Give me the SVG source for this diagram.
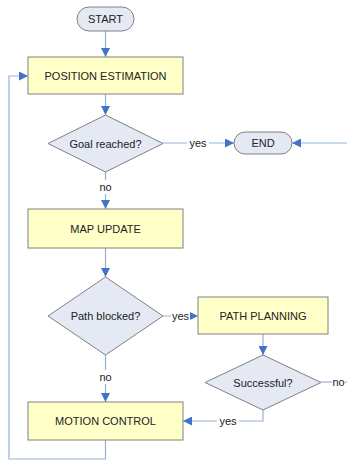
<svg xmlns="http://www.w3.org/2000/svg" width="347" height="462" viewBox="0 0 347 462">
<style>
.box{fill:#FFFFC8;stroke:#808080;stroke-width:1}
.dia{fill:#E4E9F4;stroke:#808080;stroke-width:1}
.term{fill:#E4E9F4;stroke:#808080;stroke-width:1}
.t{font-family:"Liberation Sans",Arial,sans-serif;font-size:11px;fill:#222;text-anchor:middle;dominant-baseline:central}
.c{fill:none;stroke:#95B3D7;stroke-width:1.2}
.lbl{font-family:"Liberation Sans",Arial,sans-serif;font-size:11px;fill:#222;text-anchor:middle;dominant-baseline:central}
</style>
<defs>
<marker id="ah" viewBox="0 0 10 10" refX="10" refY="5" markerWidth="9" markerHeight="9" markerUnits="userSpaceOnUse" orient="auto">
<path d="M0,0 L10,5 L0,10 z" fill="#4472C4"/>
</marker>
</defs>
<g id="connectors">
<path class="c" d="M105.5,31 V57" marker-end="url(#ah)"/>
<path class="c" d="M105.5,94 V115" marker-end="url(#ah)"/>
<path class="c" d="M163,143 H234" marker-end="url(#ah)"/>
<path class="c" d="M347,143 H292" marker-end="url(#ah)"/>
<path class="c" d="M105.5,172 V209" marker-end="url(#ah)"/>
<path class="c" d="M105.5,248 V277" marker-end="url(#ah)"/>
<path class="c" d="M163,316 H198" marker-end="url(#ah)"/>
<path class="c" d="M263,334 V355" marker-end="url(#ah)"/>
<path class="c" d="M321,382 H347"/>
<path class="c" d="M263,410 V421 H183" marker-end="url(#ah)"/>
<path class="c" d="M105.5,355 V402" marker-end="url(#ah)"/>
<path class="c" d="M105.5,440 V459 H9 V76 H28" marker-end="url(#ah)"/>
<rect x="187" y="136" width="22" height="14" fill="#fff"/>
<text class="lbl" x="198" y="143">yes</text>
<rect x="96" y="180" width="19" height="14" fill="#fff"/>
<text class="lbl" x="105.5" y="187">no</text>
<rect x="171" y="309" width="19" height="14" fill="#fff"/>
<text class="lbl" x="180.5" y="316">yes</text>
<rect x="96" y="370" width="19" height="14" fill="#fff"/>
<text class="lbl" x="105.5" y="377">no</text>
<rect x="332" y="375" width="13" height="14" fill="#fff"/>
<text class="lbl" x="338.5" y="382">no</text>
<rect x="217" y="414" width="22" height="14" fill="#fff"/>
<text class="lbl" x="228" y="421">yes</text>
</g>
<g id="start">
<rect class="term" x="77" y="7" width="57" height="24" rx="12"/>
<text class="t" x="105.5" y="19">START</text>
</g>
<g id="position-estimation">
<rect class="box" x="28" y="57" width="155" height="37"/>
<text class="t" x="105.5" y="75.5">POSITION ESTIMATION</text>
</g>
<g id="goal-reached">
<path class="dia" d="M105.5,115 L163,143.5 L105.5,172 L48,143.5 Z"/>
<text class="t" x="105.5" y="143.5">Goal reached?</text>
</g>
<g id="end">
<rect class="term" x="234" y="132" width="58" height="22" rx="11"/>
<text class="t" x="263" y="143">END</text>
</g>
<g id="map-update">
<rect class="box" x="28" y="209" width="155" height="39"/>
<text class="t" x="105.5" y="228.5">MAP UPDATE</text>
</g>
<g id="path-blocked">
<path class="dia" d="M105.5,277 L163,316 L105.5,355 L48,316 Z"/>
<text class="t" x="105.5" y="316">Path blocked?</text>
</g>
<g id="path-planning">
<rect class="box" x="198" y="297" width="130" height="37"/>
<text class="t" x="263" y="315.5">PATH PLANNING</text>
</g>
<g id="successful">
<path class="dia" d="M263,355 L321,382.5 L263,410 L205,382.5 Z"/>
<text class="t" x="263" y="382.5">Successful?</text>
</g>
<g id="motion-control">
<rect class="box" x="28" y="402" width="155" height="38"/>
<text class="t" x="105.5" y="421">MOTION CONTROL</text>
</g>
</svg>
